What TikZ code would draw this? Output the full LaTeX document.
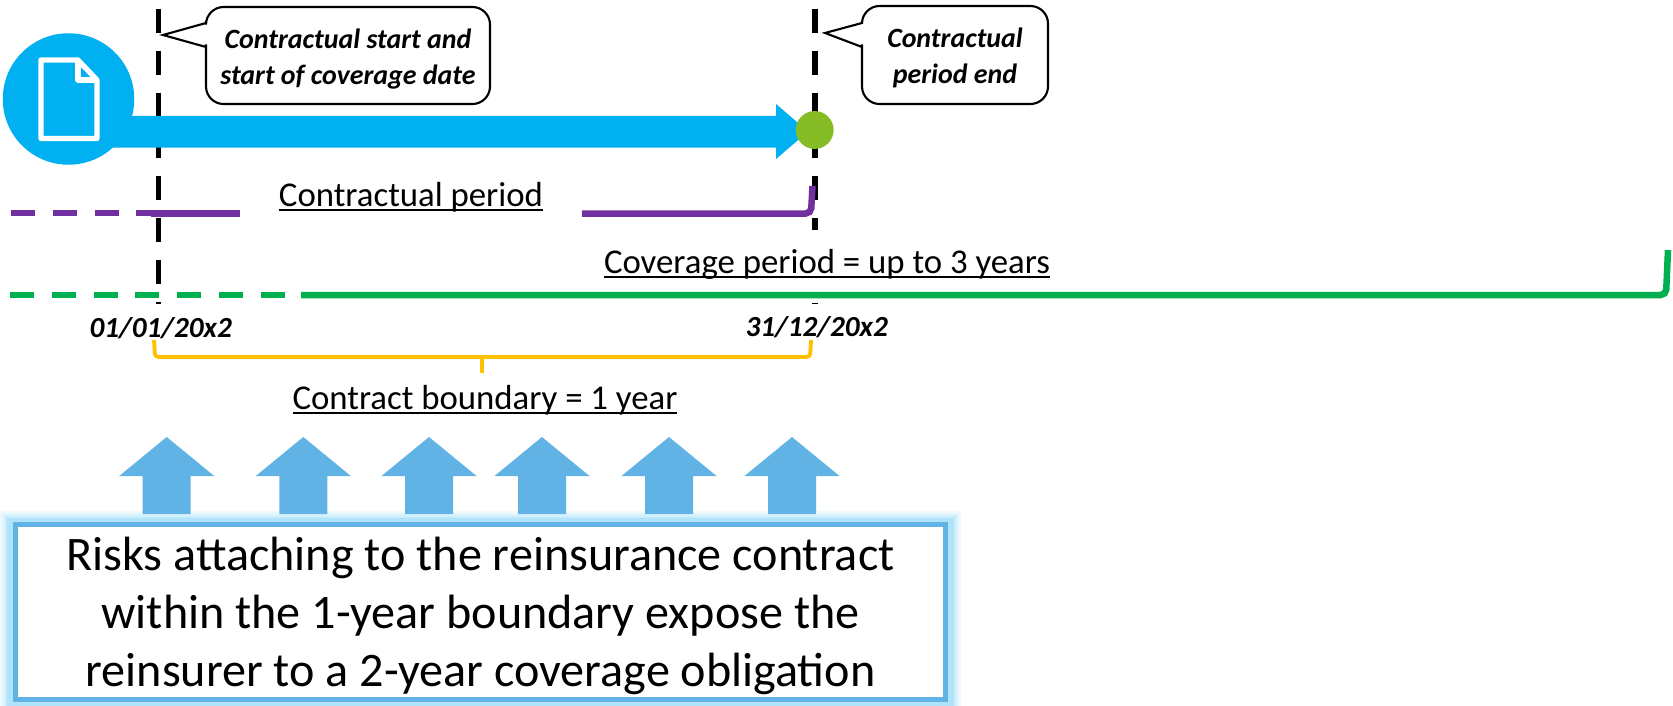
\documentclass[tikz,border=0pt]{standalone}
\usepackage{fontspec}
\setmainfont{Carlito}
\usetikzlibrary{positioning, calc}
\definecolor{ribbonblue}{HTML}{00B0F0}
\definecolor{dotgreen}{HTML}{86BC25}
\definecolor{periodpurple}{HTML}{7030A0}
\definecolor{coveragegreen}{HTML}{00B050}
\definecolor{boundarygold}{HTML}{FFC000}
\definecolor{riskblue}{HTML}{62B3E5}
\definecolor{riskglow}{HTML}{8FD8F8}
\newcommand{\ruledtext}[1]{\setbox0\hbox{#1}\rlap{\rule[-2.8pt]{\wd0}{1pt}}\box0}
\tikzset{
	datemark/.style={draw=black, line width=3.4pt, dash pattern=on 13.6pt off 10.2pt},
	noteline/.style={draw=black, line width=1.2pt, fill=white},
	notetext/.style={align=center, font=\fontsize{15.9}{20.4}\selectfont\bfseries\itshape},
	datetext/.style={font=\fontsize{16.6}{18}\selectfont\bfseries\itshape},
	periodtext/.style={font=\fontsize{19.8}{24}\selectfont},
	periodline/.style={line width=3.7pt, rounded corners=3pt},
	perioddash/.style={line width=3.7pt, dash pattern=on 13.6pt off 10.2pt},
	riskarrow/.style={fill=riskblue}
}
\begin{document}
\begin{tikzpicture}[x=0.02cm, y=-0.02cm]
	\useasboundingbox (0,0) rectangle (1673,706);
	% Dashed date markers
	\coordinate (starttop) at (158.5,9);
	\coordinate (startbot) at (158.5,304);
	\coordinate (endtop) at (814.7,9);
	\coordinate (endbot) at (814.7,230);
	\draw[datemark] (starttop) -- (startbot);
	\draw[datemark] (endtop) -- (endbot);
	\draw[black, line width=1pt] (811.5,303.5) -- (818,303.5);

	% Contract arrow with document icon
	\fill[ribbonblue] (68.5,116) -- (776,116) -- (776,104) -- (808,131.5) -- (776,159) -- (776,147.5) -- (68.5,147.5) -- cycle;
	\node[circle, fill=ribbonblue, minimum size=132*0.567pt, inner sep=0pt] (docdot) at (68.5,99) {};
	\draw[white, line width=3pt, line join=round] (41,60) -- (78,60) -- (97,80) -- (97,138.5) -- (41,138.5) -- cycle;
	\draw[white, line width=3pt, line join=round] (78,60) -- (78,80) -- (97,80);
	\node[circle, fill=dotgreen, minimum size=38*0.567pt, inner sep=0pt] (enddot) at (814.7,130) {};

	% Callouts
	\draw[noteline] (206,47) -- (163,35) -- (206,23) -- (206,21) [rounded corners=10pt] -- (206,7) -- (490,7) -- (490,104) -- (206,104) -- (206,62) [sharp corners] -- cycle;
	\node[notetext] (startnote) at (348,59) {Contractual start and\\start of coverage date};
	\draw[noteline] (862,47) -- (825,33) -- (862,23) -- (862,21) [rounded corners=10pt] -- (862,6) -- (1048,6) -- (1048,104) -- (862,104) -- (862,62) [sharp corners] -- cycle;
	\node[notetext] (endnote) at (955,58) {Contractual\\period end};

	% Contractual period
	\coordinate (purpleA) at (11,213);
	\coordinate (purpleB) at (161,213);
	\coordinate (purpleC) at (151,213.5);
	\coordinate (purpleD) at (240,213.5);
	\coordinate (purpleE) at (582,213.5);
	\coordinate (purpleF) at (811,213.5);
	\coordinate (purpleG) at (812.5,186);
	\draw[periodpurple, perioddash] (purpleA) -- (purpleB);
	\draw[periodpurple, periodline] (purpleC) -- (purpleD);
	\draw[periodpurple, periodline] (purpleE) -- (purpleF) -- (purpleG);
	\node[periodtext] (contractlabel) at (411,197) {\ruledtext{Contractual period}};

	% Coverage period
	\coordinate (greenA) at (10,295);
	\coordinate (greenB) at (290,295);
	\coordinate (greenC) at (301,295);
	\coordinate (greenD) at (1666,295);
	\coordinate (greenE) at (1668,250);
	\draw[coveragegreen, perioddash] (greenA) -- (greenB);
	\draw[coveragegreen, periodline] (greenC) -- (greenD) -- (greenE);
	\node[periodtext] (coveragelabel) at (827,264) {\ruledtext{Coverage period = up to 3 years}};

	% Dates
	\node[datetext] (startdate) at (160.7,328) {01/01/20x2};
	\node[datetext] (enddate) at (816.7,327) {31/12/20x2};

	% Contract boundary bracket
	\coordinate (goldA) at (154,340);
	\coordinate (goldB) at (155,357);
	\coordinate (goldC) at (810,357);
	\coordinate (goldD) at (811,340);
	\coordinate (goldM) at (481.7,357);
	\coordinate (goldT) at (481.7,373);
	\draw[boundarygold, line width=2.2pt, rounded corners=2pt] (goldA) -- (goldB) -- (goldC) -- (goldD);
	\draw[boundarygold, line width=2.2pt] (goldM) -- (goldT);
	\node[periodtext] (boundarylabel) at (485,400) {\ruledtext{Contract boundary = 1 year}};

	% Risks attaching
	\foreach \glow/\tint in {15/14,13/26,11/40,9/55,7/70}
		\draw[riskglow!\tint!white, line width=\glow pt] (13.5,524.5) rectangle (947.5,699.5);
	\foreach \xpos in {166.7,303.3,429,542,669,792}
		\fill[riskarrow] (\xpos,437) -- (\xpos+47.5,476) -- (\xpos+24,476) -- (\xpos+24,514) -- (\xpos-24,514) -- (\xpos-24,476) -- (\xpos-47.5,476) -- cycle;
	\node[draw=riskblue, fill=white, line width=3pt, minimum width=934*0.567pt, minimum height=175*0.567pt, inner sep=0pt] (riskbox) at (480.5,612) {};
	\node[align=center, font=\fontsize{27.4}{33.2}\selectfont] (risktext) at (480.5,616) {Risks attaching to the reinsurance contract\\within the 1-year boundary expose the\\reinsurer to a 2-year coverage obligation};
\end{tikzpicture}
\end{document}
